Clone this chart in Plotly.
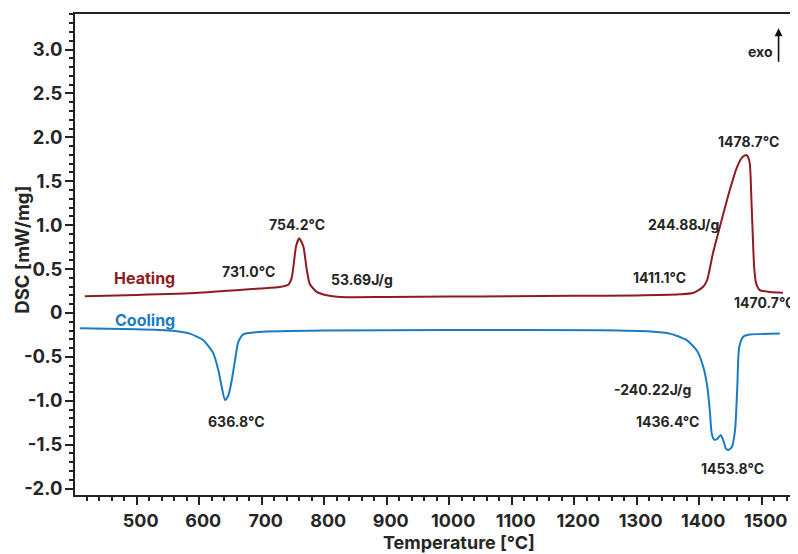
import plotly.graph_objects as go

# ---------------- data ----------------
heat_T = [417, 500, 600, 697, 729, 743, 748, 751, 755, 760, 766.6, 772, 777, 788, 804, 825,
          900, 1000, 1100, 1200, 1300, 1369, 1390, 1406, 1412.5, 1422, 1433, 1449, 1460.5,
          1468.5, 1475, 1478, 1481, 1484, 1488, 1491, 1497, 1513, 1534]
heat_v = [0.19, 0.205, 0.23, 0.278, 0.296, 0.325, 0.40, 0.54, 0.76, 0.85, 0.76, 0.50, 0.33,
          0.24, 0.201, 0.182, 0.183, 0.187, 0.19, 0.195, 0.20, 0.213, 0.227, 0.295, 0.37,
          0.68, 0.98, 1.40, 1.66, 1.77, 1.80, 1.78, 1.70, 1.21, 0.52, 0.34, 0.26, 0.24, 0.23]

cool_T = [409, 500, 553, 585, 606.6, 622.6, 630.6, 636, 641.3, 646.6, 652, 657.3, 662.6,
          670.6, 697, 800, 1000, 1242, 1322, 1353, 1380, 1396, 1406.6, 1413, 1417, 1420,
          1423.7, 1428, 1434.4, 1438.6, 1442.9, 1446.6, 1452, 1457.3, 1461, 1464, 1470.6,
          1481, 1529]
cool_v = [-0.175, -0.185, -0.2, -0.235, -0.31, -0.46, -0.65, -0.84, -0.99, -0.94, -0.77,
          -0.54, -0.33, -0.243, -0.216, -0.2, -0.195, -0.197, -0.21, -0.235, -0.31, -0.425,
          -0.615, -0.84, -1.11, -1.37, -1.44, -1.44, -1.39, -1.45, -1.545, -1.56, -1.53,
          -1.34, -0.84, -0.39, -0.27, -0.246, -0.235]

x_ticks = [500, 600, 700, 800, 900, 1000, 1100, 1200, 1300, 1400, 1500]
y_ticks = [3.0, 2.5, 2.0, 1.5, 1.0, 0.5, 0, -0.5, -1.0, -1.5, -2.0]
y_tick_labels = ["3.0", "2.5", "2.0", "1.5", "1.0", "0.5", "0", "-0.5", "-1.0", "-1.5", "-2.0"]

HEAT = "#8e1b22"
COOL = "#1a7bc3"
TXT = "#262626"
FONT = "Inter"

fig = go.Figure()
fig.add_trace(go.Scatter(x=heat_T, y=heat_v, mode="lines", name="Heating",
                         line=dict(color=HEAT, width=2, shape="spline", smoothing=0.6)))
fig.add_trace(go.Scatter(x=cool_T, y=cool_v, mode="lines", name="Cooling",
                         line=dict(color=COOL, width=2, shape="spline", smoothing=0.6)))

def lab(text, x, y, color=TXT, size=14, **kw):
    opts = dict(xanchor="center", yanchor="middle")
    opts.update(kw)
    fig.add_annotation(x=x, y=y, text=text, showarrow=False,
                       font=dict(family=FONT, size=size, color=color, weight="bold"), **opts)

lab("Heating", 512.5, 0.403, HEAT, 16)
lab("Cooling", 512.5, -0.075, COOL, 16)
lab("731.0°C", 679, 0.467)
lab("754.2°C", 756, 1.01)
lab("53.69J/g", 860, 0.382)
lab("1411.1°C", 1336.5, 0.40)
lab("244.88J/g", 1375, 1.01)
lab("1478.7°C", 1478.4, 1.958)
lab("1470.7°C", 1.0, 0.122, xref="paper", xanchor="right")
lab("636.8°C", 659, -1.231)
lab("-240.22J/g", 1325.3, -0.869)
lab("1436.4°C", 1349.3, -1.241)
lab("1453.8°C", 1453.3, -1.768)
lab("exo", 1498, 2.973)

# axis titles
lab("Temperature [°C]", 0.532, -0.098, TXT, 18, xref="paper", yref="paper")
lab("DSC [mW/mg]", -0.0727, 0.509, TXT, 18.5, xref="paper", yref="paper", textangle=-90)

# exo arrow
fig.add_annotation(x=1527, y=3.243, text="", showarrow=True, ax=0, ay=35,
                   arrowhead=2, arrowsize=1, arrowwidth=1.6, arrowcolor="#111")

# the page body has an 8px default margin: size/margins compensate for it
fig.update_layout(
    width=790, height=546,
    margin=dict(l=67, r=1, t=6, b=59),
    paper_bgcolor="white", plot_bgcolor="white",
    showlegend=False,
    font=dict(family=FONT, size=16, color=TXT),
)
fig.update_xaxes(
    range=[401.3, 1556.5],
    tickvals=x_ticks, ticktext=[str(v) for v in x_ticks],
    ticks="outside", ticklen=8, tickwidth=1.5, tickcolor="#222",
    ticklabelshift=4, ticklabelstandoff=0,
    minor=dict(dtick=20, tick0=400, ticks="outside", ticklen=4, tickwidth=1.5, tickcolor="#222"),
    showline=True, linecolor="#222", linewidth=1.8, mirror=True,
    showgrid=False, zeroline=False, automargin=False,
    tickfont=dict(family=FONT, size=18, color=TXT, weight="bold"),
)
fig.update_yaxes(
    range=[-2.073, 3.405],
    tickvals=y_ticks, ticktext=y_tick_labels,
    ticks="outside", ticklen=8, tickwidth=1.5, tickcolor="#222",
    ticklabelstandoff=-1,
    minor=dict(dtick=0.1, tick0=0, ticks="outside", ticklen=4, tickwidth=1.5, tickcolor="#222"),
    showline=True, linecolor="#222", linewidth=1.8,
    showgrid=False, zeroline=False, automargin=False,
    tickfont=dict(family=FONT, size=18.5, color=TXT, weight="bold"),
)

fig.write_html("out.html")
